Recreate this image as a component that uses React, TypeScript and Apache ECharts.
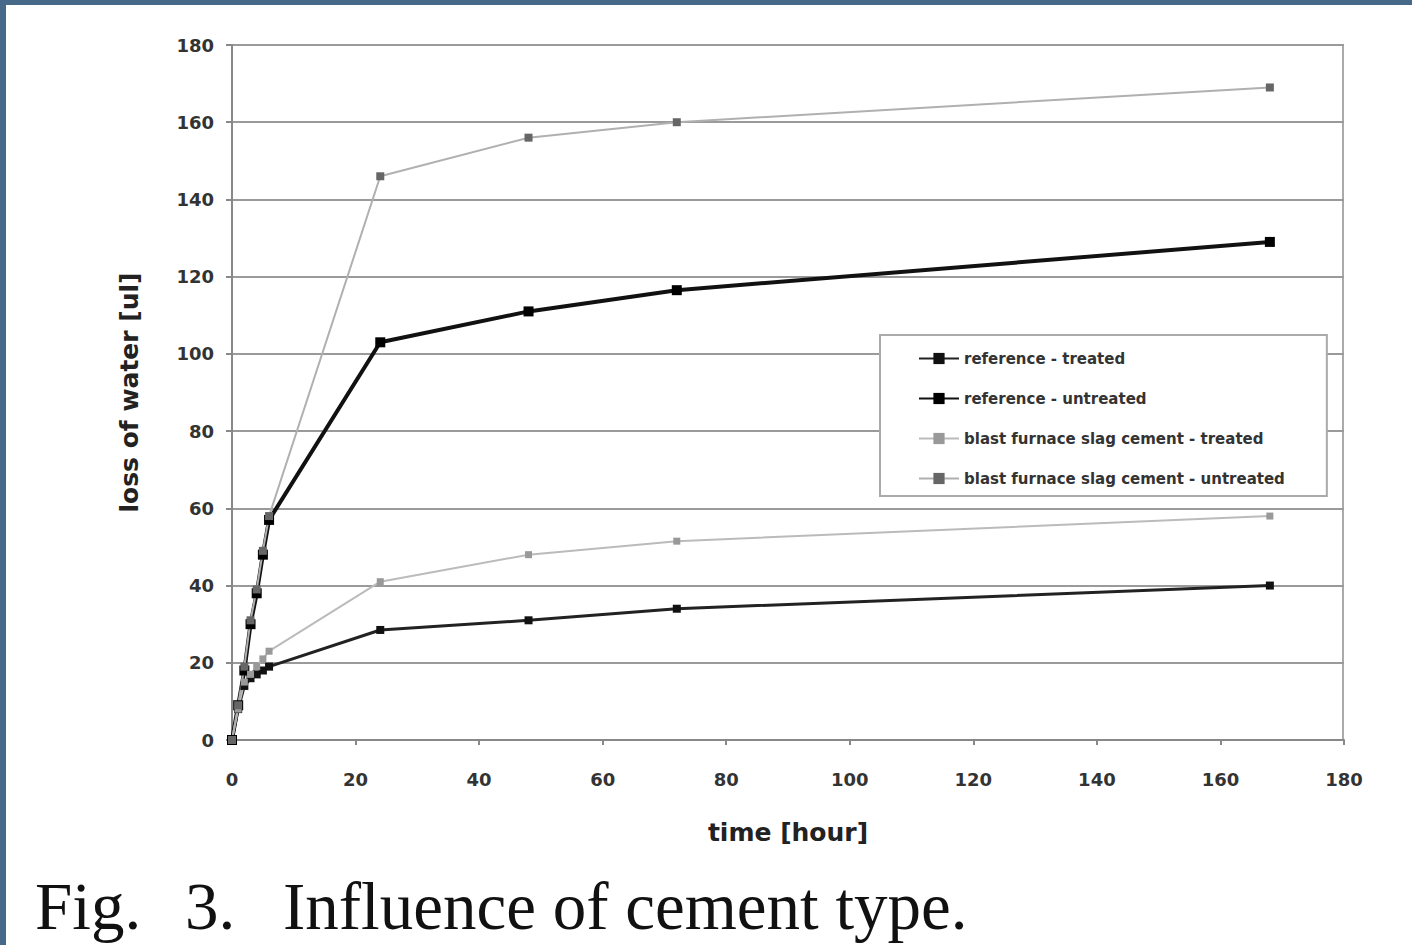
import React, { useEffect, useRef } from "react";
import * as echarts from "echarts";

const times = [0, 1, 2, 3, 4, 5, 6, 24, 48, 72, 168];
const refTreated = [0, 8, 14, 16, 17, 18, 19, 28.5, 31, 34, 40];
const refUntreated = [0, 9, 18, 30, 38, 48, 57, 103, 111, 116.5, 129];
const slagTreated = [0, 8, 15, 17, 19, 21, 23, 41, 48, 51.5, 58];
const slagUntreated = [0, 9, 19, 31, 39, 49, 58, 146, 156, 160, 169];
const seriesNames = [
  "reference - treated",
  "reference - untreated",
  "blast furnace slag cement - treated",
  "blast furnace slag cement - untreated",
];
const titleParts = ["Fig.", "3.", "Influence of cement type."];

const pairs = (ys: number[]) => times.map((t, i) => [t, ys[i]]);

export default function App() {
  const ref = useRef<HTMLDivElement>(null);
  useEffect(() => {
    document.body.style.margin = "0";
    const chart = echarts.init(ref.current!, undefined, { renderer: "svg" });
    const font = "DejaVu Sans";
    const mk = (name: string, data: number[], color: string, lineColor: string, width: number, size: number) => ({
      name,
      type: "line",
      data: pairs(data),
      symbol: "rect",
      symbolSize: size,
      itemStyle: { color },
      lineStyle: { color: lineColor, width },
      z: 3,
    });
    const titleStyle = (text: string) => ({
      text,
      font: "67px 'Liberation Serif'",
      fill: "#111",
      verticalAlign: "middle",
    });
    chart.setOption({
      animation: false,
      backgroundColor: "#ffffff",
      grid: { left: 232, top: 45, right: 68, bottom: 205, show: false },
      xAxis: {
        type: "value",
        min: 0,
        max: 180,
        interval: 20,
        name: "time [hour]",
        nameLocation: "middle",
        nameGap: 80,
        nameTextStyle: { fontFamily: font, fontWeight: "bold", fontSize: 25, color: "#222" },
        axisLine: { show: true, onZero: false, lineStyle: { color: "#888", width: 2 } },
        axisTick: { show: true, length: 5, lineStyle: { color: "#888", width: 2 } },
        axisLabel: { margin: 30, fontFamily: font, fontWeight: "bold", fontSize: 18, color: "#333" },
        splitLine: { show: false },
      },
      yAxis: {
        type: "value",
        min: 0,
        max: 180,
        interval: 20,
        name: "loss of water [ul]",
        nameLocation: "middle",
        nameGap: 90,
        nameTextStyle: { fontFamily: font, fontWeight: "bold", fontSize: 25, color: "#222" },
        axisLine: { show: true, lineStyle: { color: "#888", width: 2 } },
        axisTick: { show: true, length: 6, lineStyle: { color: "#888", width: 2 } },
        axisLabel: { margin: 18, fontFamily: font, fontWeight: "bold", fontSize: 18, color: "#333" },
        splitLine: { show: true, lineStyle: { color: "#9a9a9a", width: 2 } },
      },
      legend: {
        orient: "vertical",
        left: 880,
        top: 335,
        padding: [16, 42, 10, 38],
        itemWidth: 40,
        itemHeight: 14,
        itemGap: 25,
        backgroundColor: "#ffffff",
        borderColor: "#aaa",
        borderWidth: 2,
        textStyle: { fontFamily: font, fontWeight: "bold", fontSize: 15, color: "#333" },
        data: seriesNames,
      },
      series: [
        mk(seriesNames[0], refTreated, "#111", "#222", 3, 8),
        mk(seriesNames[1], refUntreated, "#000", "#111", 4, 10),
        mk(seriesNames[2], slagTreated, "#999", "#bbb", 2, 7),
        mk(seriesNames[3], slagUntreated, "#666", "#b0b0b0", 2, 8),
      ],
      graphic: [
        { type: "rect", shape: { x: 0, y: 0, width: 1412, height: 5 }, style: { fill: "#46698a" } },
        { type: "rect", shape: { x: 0, y: 0, width: 6, height: 945 }, style: { fill: "#46698a" } },
        { type: "line", shape: { x1: 1343, y1: 45, x2: 1343, y2: 740 }, style: { stroke: "#aaa", lineWidth: 2 } },
        { type: "text", x: 35, y: 906, style: titleStyle(titleParts[0]) },
        { type: "text", x: 185, y: 906, style: titleStyle(titleParts[1]) },
        { type: "text", x: 283, y: 906, style: titleStyle(titleParts[2]) },
      ],
    });
    return () => chart.dispose();
  }, []);
  return <div ref={ref} style={{ width: 1412, height: 945, position: "absolute", left: 0, top: 0 }} />;
}
